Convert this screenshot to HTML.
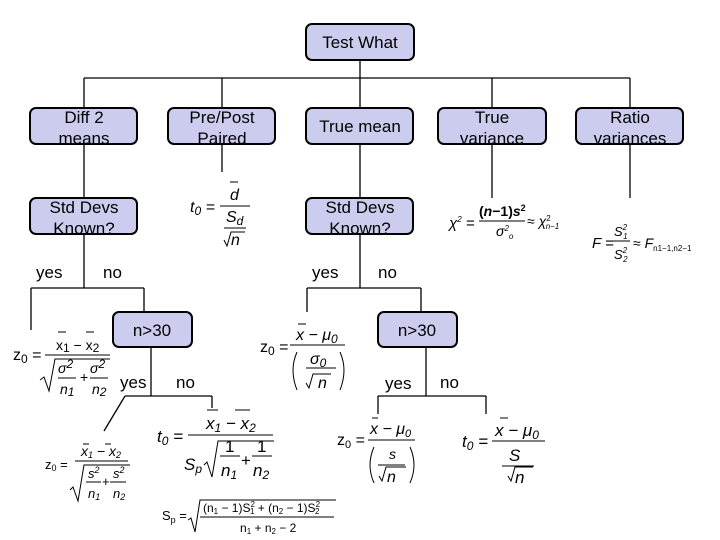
<!DOCTYPE html>
<html><head><meta charset="utf-8"><style>
html,body{margin:0;padding:0;background:#fff}
svg{display:block}
text{font-family:"Liberation Sans",sans-serif;fill:#000}
.l{font-size:17px}
.f{font-size:16px}
.s{font-size:12px}
.sr{font-family:"Liberation Serif",serif}
</style></head><body>
<svg width="720" height="540" viewBox="0 0 720 540" xmlns="http://www.w3.org/2000/svg">
<g stroke="#000" stroke-width="1.3" fill="none">
<line x1="360" y1="60" x2="360" y2="78"/>
<line x1="84" y1="78" x2="630" y2="78"/>
<line x1="84" y1="78" x2="84" y2="108"/><line x1="222" y1="78" x2="222" y2="108"/>
<line x1="360" y1="78" x2="360" y2="108"/><line x1="492" y1="78" x2="492" y2="108"/>
<line x1="630" y1="78" x2="630" y2="108"/>
<line x1="84" y1="144" x2="84" y2="198"/><line x1="222" y1="144" x2="222" y2="172"/>
<line x1="360" y1="144" x2="360" y2="198"/><line x1="492" y1="144" x2="492" y2="198"/>
<line x1="630" y1="144" x2="630" y2="198"/>
<line x1="84" y1="234" x2="84" y2="288"/><line x1="31" y1="288" x2="144" y2="288"/>
<line x1="31" y1="288" x2="31" y2="330"/><line x1="144" y1="288" x2="144" y2="312"/>
<line x1="360" y1="234" x2="360" y2="288"/><line x1="307" y1="288" x2="421" y2="288"/>
<line x1="307" y1="288" x2="307" y2="312"/><line x1="421" y1="288" x2="421" y2="312"/>
<line x1="151" y1="347" x2="151" y2="396"/><line x1="125" y1="396" x2="212" y2="396"/>
<line x1="125" y1="396" x2="104" y2="431"/><line x1="212" y1="396" x2="212" y2="408"/>
<line x1="426" y1="347" x2="426" y2="396"/><line x1="378" y1="396" x2="486" y2="396"/>
<line x1="378" y1="396" x2="378" y2="414"/><line x1="486" y1="396" x2="486" y2="414"/>
</g>
<g fill="#ccccee" stroke="#000" stroke-width="2">
<rect x="306" y="24" width="108" height="36" rx="6"/>
<rect x="30" y="108" width="107" height="36" rx="6"/>
<rect x="168" y="108" width="107" height="36" rx="6"/>
<rect x="306" y="108" width="107" height="36" rx="6"/>
<rect x="438" y="108" width="108" height="36" rx="6"/>
<rect x="576" y="108" width="107" height="36" rx="6"/>
<rect x="30" y="198" width="107" height="36" rx="6"/>
<rect x="306" y="198" width="107" height="36" rx="6"/>
<rect x="113" y="312" width="79" height="35" rx="6"/>
<rect x="378" y="312" width="79" height="35" rx="6"/>
</g>
<g class="l" text-anchor="middle">
<text x="360" y="48">Test What</text>
<text x="84" y="123">Diff 2</text><text x="84" y="144">means</text>
<text x="222" y="123">Pre/Post</text><text x="222" y="144">Paired</text>
<text x="360" y="132">True mean</text>
<text x="492" y="123">True</text><text x="492" y="144">variance</text>
<text x="630" y="123">Ratio</text><text x="630" y="144">variances</text>
<text x="84" y="213">Std Devs</text><text x="84" y="234">Known?</text>
<text x="360" y="213">Std Devs</text><text x="360" y="234">Known?</text>
<text x="152" y="336">n&gt;30</text>
<text x="417" y="336">n&gt;30</text>
</g>
<g class="l">
<text x="36" y="278">yes</text><text x="103" y="278">no</text>
<text x="312" y="278">yes</text><text x="378" y="278">no</text>
<text x="120" y="388">yes</text><text x="176" y="388">no</text>
<text x="385" y="389">yes</text><text x="440" y="388">no</text>
</g>
<g stroke="#000" stroke-width="1" fill="none">
<line x1="220" y1="206" x2="250" y2="206"/><line x1="230" y1="182" x2="238" y2="182"/>
<line x1="224" y1="228" x2="246" y2="228"/><path d="M224 240 l3 6 l4 -14 h14"/>
<line x1="45" y1="355" x2="110" y2="355"/><line x1="58" y1="332" x2="66" y2="332"/><line x1="86" y1="332" x2="94" y2="332"/>
<path d="M40 380 l4 -3 l5 14 l6 -32 h55"/>
<line x1="58" y1="378" x2="76" y2="378"/><line x1="90" y1="378" x2="108" y2="378"/>
<line x1="290" y1="345" x2="345" y2="345"/><line x1="298" y1="324" x2="306" y2="324"/>
<line x1="306" y1="368" x2="336" y2="368"/><path d="M306 383 l3 5 l4 -14 h18"/>
<path d="M297 352 q-8 18 0 38"/><path d="M340 352 q8 18 0 38"/>
<line x1="75" y1="461" x2="128" y2="461"/><line x1="83" y1="444" x2="89" y2="444"/><line x1="105" y1="444" x2="111" y2="444"/>
<path d="M70 490 l3 -3 l5 14 l6 -36 h46"/>
<line x1="86" y1="482" x2="101" y2="482"/><line x1="110" y1="482" x2="126" y2="482"/>
<line x1="188" y1="435" x2="273" y2="435"/><line x1="207" y1="410" x2="218" y2="410"/><line x1="235" y1="410" x2="250" y2="410"/>
<path d="M204 465 l3 -3 l5 15 l6 -36 h56"/>
<line x1="220" y1="456" x2="240" y2="456"/><line x1="252" y1="456" x2="272" y2="456"/>
<line x1="200" y1="517" x2="334" y2="517"/><path d="M188 520 l3 -2 l4 14 l5 -32 h136"/>
<line x1="368" y1="440" x2="415" y2="440"/><line x1="372" y1="418" x2="378" y2="418"/>
<line x1="378" y1="465" x2="405" y2="465"/><path d="M379 476 l3 5 l4 -14 h20"/>
<path d="M374 447 q-8 18 0 36"/><path d="M410 447 q8 18 0 36"/>
<line x1="492" y1="441" x2="545" y2="441"/><line x1="500" y1="418" x2="508" y2="418"/>
<line x1="502" y1="466" x2="534" y2="466"/><path d="M508 476 l3 5 l4 -14 h18"/>
<line x1="479" y1="221" x2="525" y2="221"/>
<line x1="612" y1="241" x2="630" y2="241"/>
</g>
<g class="f">
<text x="190" y="212" font-style="italic">t<tspan class="s" dy="3">0</tspan><tspan dy="-3"> =</tspan></text>
<text x="230" y="200" font-style="italic">d</text>
<text x="226" y="222" font-style="italic">S<tspan class="s" dy="3">d</tspan></text>
<text x="231" y="245" font-style="italic">n</text>
<text x="13" y="360">z<tspan class="s" dy="3">0</tspan><tspan dy="-3"> =</tspan></text>
<text x="56" y="350" font-size="14">x<tspan class="s" dy="2">1</tspan><tspan dy="-2"> − x</tspan><tspan class="s" dy="2">2</tspan></text>
<text x="58" y="373" font-style="italic" font-size="14">σ<tspan class="s" dy="-5">2</tspan></text>
<text x="80" y="382" font-size="14">+</text>
<text x="90" y="373" font-style="italic" font-size="14">σ<tspan class="s" dy="-5">2</tspan></text>
<text x="60" y="394" font-style="italic" font-size="14">n<tspan class="s" dy="2">1</tspan></text>
<text x="92" y="394" font-style="italic" font-size="14">n<tspan class="s" dy="2">2</tspan></text>
<text x="260" y="352">z<tspan class="s" dy="3">0</tspan><tspan dy="-3"> =</tspan></text>
<text x="296" y="340" font-style="italic">x − μ<tspan class="s" dy="3">0</tspan></text>
<text x="310" y="364" font-style="italic">σ<tspan class="s" dy="3">0</tspan></text>
<text x="318" y="388" font-style="italic">n</text>
<g class="sr">
<text x="45" y="469" font-size="13">z<tspan font-size="9" dy="2">0</tspan><tspan dy="-2"> =</tspan></text>
<text x="81" y="456" font-size="14" font-style="italic">x<tspan font-size="9" dy="2">1</tspan><tspan dy="-2"> − x</tspan><tspan font-size="9" dy="2">2</tspan></text>
<text x="88" y="478" font-size="13" font-style="italic">s<tspan font-size="9" dy="-5">2</tspan></text>
<text x="102" y="486" font-size="13">+</text>
<text x="113" y="478" font-size="13" font-style="italic">s<tspan font-size="9" dy="-5">2</tspan></text>
<text x="88" y="498" font-size="13" font-style="italic">n<tspan font-size="9" dy="2">1</tspan></text>
<text x="113" y="498" font-size="13" font-style="italic">n<tspan font-size="9" dy="2">2</tspan></text>
<text x="337" y="445">z<tspan font-size="11" dy="3">0</tspan><tspan dy="-3"> =</tspan></text>
<text x="370" y="434" font-style="italic">x − μ<tspan font-size="11" dy="3">0</tspan></text>
<text x="389" y="459" font-style="italic" font-size="14">s</text>
<text x="387" y="482" font-style="italic">n</text>
<text x="449" y="228" font-style="italic" font-size="15">χ<tspan font-size="8" dy="-6">2</tspan><tspan dy="6"> =</tspan></text>
<text x="479" y="216" font-size="14" font-weight="bold">(<tspan font-style="italic">n</tspan>−1)<tspan font-style="italic">s</tspan><tspan font-size="9" dy="-5">2</tspan></text>
<text x="496" y="236" font-size="14" font-style="italic">σ<tspan font-size="8" dy="-5">2</tspan><tspan font-size="8" dy="8">o</tspan></text>
<text x="527" y="226" font-size="14">≈ <tspan font-style="italic">χ</tspan><tspan font-size="8" dy="-5">2</tspan><tspan font-size="8" dx="-5" dy="8" font-style="italic">n−1</tspan></text>
<text x="592" y="248" font-style="italic" font-size="15">F =</text>
<text x="614" y="236" font-style="italic" font-size="13">S<tspan font-size="8" dy="-6">2</tspan><tspan font-size="8" dx="-4" dy="9">1</tspan></text>
<text x="614" y="259" font-style="italic" font-size="13">S<tspan font-size="8" dy="-6">2</tspan><tspan font-size="8" dx="-4" dy="9">2</tspan></text>
<text x="633" y="248" font-size="14">≈ <tspan font-style="italic">F</tspan><tspan font-size="8" dy="3">n1−1,n2−1</tspan></text>
</g>
<text x="157" y="442" font-style="italic" font-size="17">t<tspan class="s" dy="3">0</tspan><tspan dy="-3"> =</tspan></text>
<text x="206" y="429" font-style="italic" font-size="17">x<tspan class="s" dy="3">1</tspan><tspan dy="-3"> − x</tspan><tspan class="s" dy="3">2</tspan></text>
<text x="225" y="452" font-size="17">1</text><text x="257" y="452" font-size="17">1</text>
<text x="241" y="466" font-size="17">+</text>
<text x="184" y="470" font-style="italic" font-size="17">S<tspan class="s" dy="3">p</tspan></text>
<text x="221" y="476" font-style="italic" font-size="17">n<tspan class="s" dy="3">1</tspan></text>
<text x="253" y="476" font-style="italic" font-size="17">n<tspan class="s" dy="3">2</tspan></text>
<text x="162" y="520" font-size="13">S<tspan font-size="9" dy="3">p</tspan><tspan dy="-3"> =</tspan></text>
<text x="203" y="512" font-size="12">(n<tspan font-size="8" dy="2">1</tspan><tspan dy="-2"> − 1)S</tspan><tspan font-size="8" dy="-5">2</tspan><tspan font-size="8" dx="-5" dy="7">1</tspan><tspan dy="-2"> + (n</tspan><tspan font-size="8" dy="2">2</tspan><tspan dy="-2"> − 1)S</tspan><tspan font-size="8" dy="-5">2</tspan><tspan font-size="8" dx="-5" dy="7">2</tspan></text>
<text x="240" y="532" font-size="12">n<tspan font-size="8" dy="2">1</tspan><tspan dy="-2"> + n</tspan><tspan font-size="8" dy="2">2</tspan><tspan dy="-2"> − 2</tspan></text>
<text x="462" y="447" font-style="italic" font-size="17">t<tspan class="s" dy="3">0</tspan><tspan dy="-3"> =</tspan></text>
<text x="495" y="436" font-style="italic" font-size="17">x − μ<tspan class="s" dy="3">0</tspan></text>
<text x="509" y="461" font-style="italic" font-size="17">S</text>
<text x="515" y="483" font-style="italic" font-size="17">n</text>
</g>
</svg>
</body></html>
